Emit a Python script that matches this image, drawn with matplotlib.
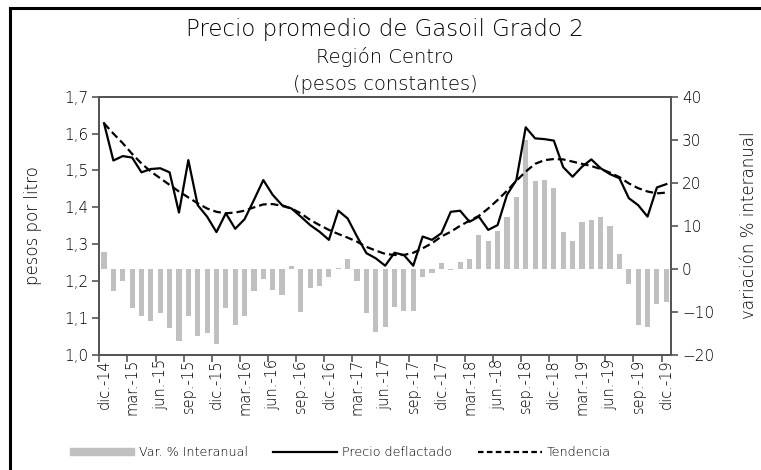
import numpy as np
import matplotlib
matplotlib.use('Agg')
import matplotlib.pyplot as plt
from matplotlib.patches import Patch
from matplotlib.lines import Line2D

plt.rcParams['font.family'] = ['DejaVu Sans']
plt.rcParams['font.weight'] = 'light'

# datos mensuales dic-14 .. dic-19
precio = [1.628, 1.527, 1.539, 1.535, 1.495, 1.504, 1.506, 1.495, 1.386, 1.528,
          1.406, 1.375, 1.333, 1.384, 1.342, 1.368, 1.420, 1.474, 1.434, 1.406,
          1.397, 1.375, 1.352, 1.334, 1.312, 1.391, 1.370, 1.321, 1.276, 1.262,
          1.242, 1.277, 1.271, 1.242, 1.321, 1.312, 1.330, 1.388, 1.391, 1.361,
          1.375, 1.339, 1.352, 1.434, 1.474, 1.617, 1.587, 1.585, 1.581, 1.509,
          1.483, 1.510, 1.530, 1.506, 1.490, 1.479, 1.425, 1.406, 1.375, 1.454,
          1.463]
tendencia = [1.628, 1.600, 1.574, 1.545, 1.519, 1.497, 1.479, 1.461, 1.443, 1.427,
             1.411, 1.397, 1.388, 1.384, 1.386, 1.391, 1.400, 1.408, 1.409, 1.404,
             1.397, 1.384, 1.366, 1.352, 1.339, 1.328, 1.318, 1.307, 1.293, 1.283,
             1.274, 1.271, 1.271, 1.277, 1.289, 1.303, 1.321, 1.334, 1.350, 1.364,
             1.377, 1.397, 1.420, 1.445, 1.472, 1.497, 1.518, 1.528, 1.531, 1.530,
             1.524, 1.518, 1.512, 1.504, 1.494, 1.482, 1.465, 1.452, 1.443, 1.438,
             1.440]
var_interanual = [4.0, -5.1, -2.7, -9.1, -10.9, -12.1, -10.3, -13.7, -16.7, -10.9,
                  -15.6, -15.0, -17.4, -9.1, -13.1, -10.9, -5.1, -2.4, -4.9, -6.0,
                  0.6, -9.9, -4.5, -3.9, -1.8, 0.3, 2.2, -2.7, -10.3, -14.6,
                  -13.4, -8.8, -9.7, -9.7, -1.8, -0.9, 1.3, -0.2, 1.6, 2.2,
                  7.8, 6.5, 8.9, 12.1, 16.7, 30.0, 20.3, 20.6, 18.8, 8.6,
                  6.5, 10.8, 11.4, 12.1, 10.0, 3.5, -3.6, -13.1, -13.4, -8.2,
                  -7.6]
etiquetas_x = ['dic.-14', 'mar.-15', 'jun.-15', 'sep.-15', 'dic.-15', 'mar.-16',
               'jun.-16', 'sep.-16', 'dic.-16', 'mar.-17', 'jun.-17', 'sep.-17',
               'dic.-17', 'mar.-18', 'jun.-18', 'sep.-18', 'dic.-18', 'mar.-19',
               'jun.-19', 'sep.-19', 'dic.-19']
ticks_izq = [1.0, 1.1, 1.2, 1.3, 1.4, 1.5, 1.6, 1.7]
etiquetas_izq = ['1,0', '1,1', '1,2', '1,3', '1,4', '1,5', '1,6', '1,7']
ticks_der = [-20, -10, 0, 10, 20, 30, 40]

x = np.arange(len(precio))
gris_eje = '#555555'

fig = plt.figure(figsize=(7.61, 4.70), dpi=100)
ax = fig.add_axes([0.1305, 0.2447, 0.7512, 0.5496])
ax2 = ax.twinx()

ax2.bar(x, var_interanual, width=0.55, color='#c0c0c0')
ax.plot(x, precio, color='black', lw=1.6)
ax.plot(x, tendencia, color='black', lw=1.6, ls=(0, (3.5, 1.8)))

ax.set_zorder(ax2.get_zorder() + 1)
ax.patch.set_visible(False)

ax.set_xlim(-0.5, len(x) - 0.5)
ax.set_ylim(1.0, 1.7)
ax2.set_ylim(-20, 40)
ax.set_yticks(ticks_izq)
ax.set_yticklabels(etiquetas_izq)
ax2.set_yticks(ticks_der)

ax.set_xticks(np.arange(-0.5, len(x) - 1, 3))
ax.set_xticklabels([])
ax.set_xticks(np.arange(0, len(x), 3), minor=True)
ax.set_xticklabels(etiquetas_x, minor=True, rotation=90)
ax.tick_params(axis='x', which='major', direction='out', length=5, color=gris_eje, width=1.2)
ax.tick_params(axis='x', which='minor', length=0, pad=3, labelsize=10.5, labelcolor='black')
ax.tick_params(axis='y', direction='out', length=5, color=gris_eje, width=1.2,
               labelsize=11, pad=3, labelcolor='black')
ax2.tick_params(axis='y', direction='out', length=5, color=gris_eje, width=1.2,
                labelsize=11, pad=3, labelcolor='black')

for a in (ax, ax2):
    for s in a.spines.values():
        s.set_color(gris_eje)
        s.set_linewidth(1.4)

fig.text(0.506, 0.937, 'Precio promedio de Gasoil Grado 2', ha='center', va='center',
         fontsize=16.5, color='black')
fig.text(0.506, 0.879, 'Región Centro', ha='center', va='center', fontsize=14, color='black')
fig.text(0.506, 0.821, '(pesos constantes)', ha='center', va='center', fontsize=14, color='black')
fig.text(0.043, 0.52, 'pesos por litro', rotation=90, ha='center', va='center',
         fontsize=12, color='black')
fig.text(0.984, 0.52, 'variación % interanual', rotation=90, ha='center', va='center',
         fontsize=12, color='black')

handles = [Patch(color='#c0c0c0'),
           Line2D([], [], color='black', lw=1.6),
           Line2D([], [], color='black', lw=1.6, ls=(0, (2.5, 1.5)))]
fig.legend(handles, ['Var. % Interanual', 'Precio deflactado', 'Tendencia'],
           loc='center', bbox_to_anchor=(0.447, 0.038), ncol=3, frameon=False,
           fontsize=9.2, handlelength=5.0, handleheight=0.5, columnspacing=2.0,
           handletextpad=0.4, labelcolor='black')

# marco de la figura
fig.add_artist(Line2D([0.013, 0.013], [0.983, 0.0], color='black', lw=2.2, transform=fig.transFigure))
fig.add_artist(Line2D([0.013, 1.0], [0.983, 0.983], color='black', lw=2.2, transform=fig.transFigure))

fig.savefig('out.png', dpi=100)
